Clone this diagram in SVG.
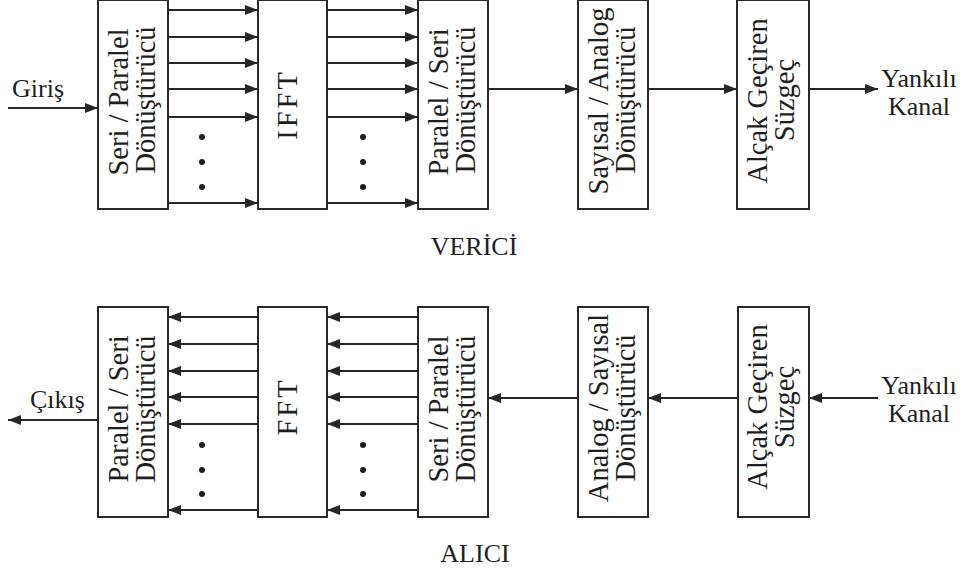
<svg xmlns="http://www.w3.org/2000/svg" width="963" height="573" viewBox="0 0 963 573">
  <defs>
    <marker id="arrow" markerUnits="userSpaceOnUse" markerWidth="13" markerHeight="10" refX="13" refY="5" orient="auto">
      <path d="M0,0 L13,5 L0,10 Z" fill="#262626"/>
    </marker>
    <style>
      .box { fill: #ffffff; stroke: #2a2a2a; stroke-width: 2; }
      .lbl { font-family: "Liberation Serif", "Times New Roman", serif; font-size: 26px; fill: #1e1e1e; }
      .vt { font-size: 28.5px; }
      .mid { text-anchor: middle; }
      .wire { fill: none; stroke: #262626; stroke-width: 1.8; marker-end: url(#arrow); }
      .dot { fill: #1e1e1e; }
      .sp { letter-spacing: 3px; }
    </style>
  </defs>

  <rect width="963" height="573" fill="#ffffff"/>

  <!-- Transmitter chain -->
  <g id="tx-serial-parallel">
    <rect class="box" x="98" y="0" width="70" height="209"/>
    <text class="lbl vt mid" transform="translate(128,102) rotate(-90)">Seri / Paralel</text>
    <text class="lbl vt mid" transform="translate(155,100) rotate(-90)">Dönüştürücü</text>
  </g>
  <g id="tx-ifft">
    <rect class="box" x="258" y="0" width="69" height="209"/>
    <text class="lbl vt mid sp" transform="translate(297,104.5) rotate(-90)">IFFT</text>
  </g>
  <g id="tx-parallel-serial">
    <rect class="box" x="418" y="0" width="70" height="209"/>
    <text class="lbl vt mid" transform="translate(448,102) rotate(-90)">Paralel / Seri</text>
    <text class="lbl vt mid" transform="translate(475,100) rotate(-90)">Dönüştürücü</text>
  </g>
  <g id="tx-dac">
    <rect class="box" x="578" y="0" width="70" height="209"/>
    <text class="lbl vt mid" transform="translate(608,101) rotate(-90)">Sayısal / Analog</text>
    <text class="lbl vt mid" transform="translate(635,100) rotate(-90)">Dönüştürücü</text>
  </g>
  <g id="tx-lowpass">
    <rect class="box" x="737" y="0" width="72" height="209"/>
    <text class="lbl vt mid" transform="translate(767,101) rotate(-90)">Alçak Geçiren</text>
    <text class="lbl vt mid" transform="translate(794,100) rotate(-90)">Süzgeç</text>
  </g>

  <!-- Receiver chain -->
  <g id="rx-parallel-serial">
    <rect class="box" x="98" y="307" width="70" height="210"/>
    <text class="lbl vt mid" transform="translate(128,409) rotate(-90)">Paralel / Seri</text>
    <text class="lbl vt mid" transform="translate(155,409) rotate(-90)">Dönüştürücü</text>
  </g>
  <g id="rx-fft">
    <rect class="box" x="258" y="307" width="69" height="210"/>
    <text class="lbl vt mid sp" transform="translate(297,406.5) rotate(-90)">FFT</text>
  </g>
  <g id="rx-serial-parallel">
    <rect class="box" x="418" y="307" width="70" height="210"/>
    <text class="lbl vt mid" transform="translate(448,409) rotate(-90)">Seri / Paralel</text>
    <text class="lbl vt mid" transform="translate(475,409) rotate(-90)">Dönüştürücü</text>
  </g>
  <g id="rx-adc">
    <rect class="box" x="578" y="307" width="70" height="210"/>
    <text class="lbl vt mid" transform="translate(608,408) rotate(-90)">Analog / Sayısal</text>
    <text class="lbl vt mid" transform="translate(635,408) rotate(-90)">Dönüştürücü</text>
  </g>
  <g id="rx-lowpass">
    <rect class="box" x="738" y="307" width="71" height="210"/>
    <text class="lbl vt mid" transform="translate(767,407) rotate(-90)">Alçak Geçiren</text>
    <text class="lbl vt mid" transform="translate(794,407) rotate(-90)">Süzgeç</text>
  </g>

  <!-- Connectors -->
  <g id="connectors">
    <!-- transmitter -->
    <line class="wire" x1="8" y1="108" x2="98" y2="108"/>
    <line class="wire" x1="168" y1="10" x2="258" y2="10"/>
    <line class="wire" x1="168" y1="37" x2="258" y2="37"/>
    <line class="wire" x1="168" y1="63" x2="258" y2="63"/>
    <line class="wire" x1="168" y1="89" x2="258" y2="89"/>
    <line class="wire" x1="168" y1="117" x2="258" y2="117"/>
    <line class="wire" x1="168" y1="203" x2="258" y2="203"/>
    <line class="wire" x1="327" y1="10" x2="418" y2="10"/>
    <line class="wire" x1="327" y1="37" x2="418" y2="37"/>
    <line class="wire" x1="327" y1="63" x2="418" y2="63"/>
    <line class="wire" x1="327" y1="89" x2="418" y2="89"/>
    <line class="wire" x1="327" y1="117" x2="418" y2="117"/>
    <line class="wire" x1="327" y1="203" x2="418" y2="203"/>
    <line class="wire" x1="488" y1="89" x2="578" y2="89"/>
    <line class="wire" x1="648" y1="89" x2="737" y2="89"/>
    <line class="wire" x1="809" y1="89" x2="878" y2="89"/>
    <!-- receiver -->
    <line class="wire" x1="258" y1="317" x2="168" y2="317"/>
    <line class="wire" x1="258" y1="344" x2="168" y2="344"/>
    <line class="wire" x1="258" y1="371" x2="168" y2="371"/>
    <line class="wire" x1="258" y1="397" x2="168" y2="397"/>
    <line class="wire" x1="258" y1="424" x2="168" y2="424"/>
    <line class="wire" x1="258" y1="510" x2="168" y2="510"/>
    <line class="wire" x1="418" y1="317" x2="327" y2="317"/>
    <line class="wire" x1="418" y1="344" x2="327" y2="344"/>
    <line class="wire" x1="418" y1="371" x2="327" y2="371"/>
    <line class="wire" x1="418" y1="397" x2="327" y2="397"/>
    <line class="wire" x1="418" y1="424" x2="327" y2="424"/>
    <line class="wire" x1="418" y1="510" x2="327" y2="510"/>
    <line class="wire" x1="578" y1="398" x2="488" y2="398"/>
    <line class="wire" x1="738" y1="398" x2="648" y2="398"/>
    <line class="wire" x1="878" y1="398" x2="809" y2="398"/>
    <line class="wire" x1="98" y1="420" x2="8" y2="420"/>
    <!-- ellipsis dots for the remaining parallel lines -->
    <circle class="dot" cx="202" cy="137" r="3"/>
    <circle class="dot" cx="202" cy="162" r="3"/>
    <circle class="dot" cx="202" cy="187" r="3"/>
    <circle class="dot" cx="363" cy="137" r="3"/>
    <circle class="dot" cx="363" cy="162" r="3"/>
    <circle class="dot" cx="363" cy="187" r="3"/>
    <circle class="dot" cx="202" cy="445" r="3"/>
    <circle class="dot" cx="202" cy="470" r="3"/>
    <circle class="dot" cx="202" cy="494" r="3"/>
    <circle class="dot" cx="363" cy="445" r="3"/>
    <circle class="dot" cx="363" cy="470" r="3"/>
    <circle class="dot" cx="363" cy="494" r="3"/>
  </g>

  <!-- Port labels and captions -->
  <text class="lbl" x="12" y="97">Giriş</text>
  <text class="lbl mid" x="919" y="87">Yankılı</text>
  <text class="lbl mid" x="919" y="115">Kanal</text>
  <text class="lbl mid" x="474" y="255">VERİCİ</text>

  <text class="lbl" x="30" y="408">Çıkış</text>
  <text class="lbl mid" x="919" y="394">Yankılı</text>
  <text class="lbl mid" x="919" y="422">Kanal</text>
  <text class="lbl mid" x="475" y="562">ALICI</text>
</svg>
